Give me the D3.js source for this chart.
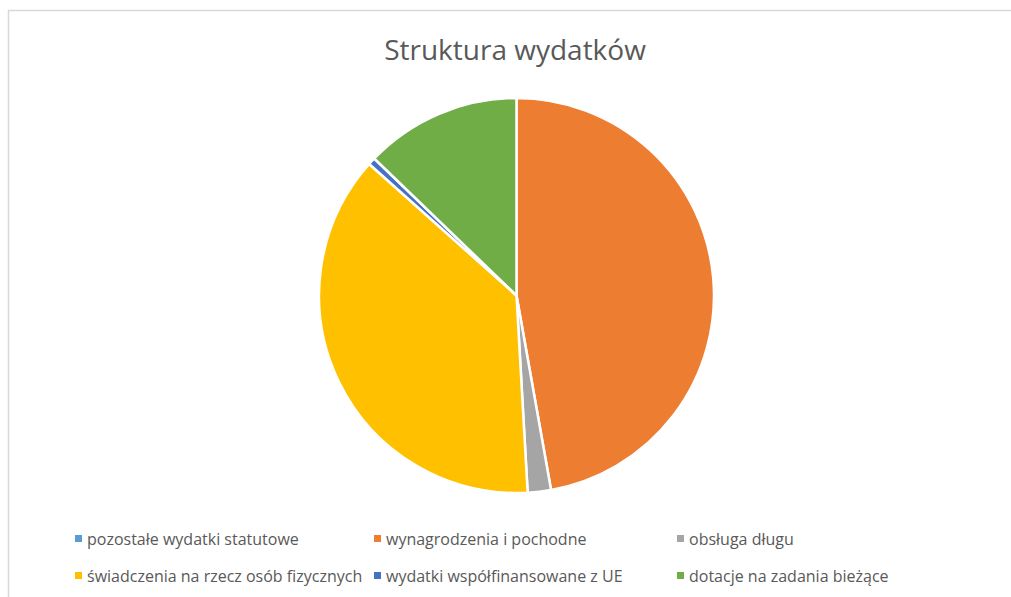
<!DOCTYPE html>
<html>
<head>
<meta charset="utf-8">
<script src="https://cdn.jsdelivr.net/npm/d3@7"></script>
<style>
  body { margin: 0; background: #fff; }
  text { font-family: "Open Sans", "Noto Sans", sans-serif; fill: #595959; }
</style>
</head>
<body>
<svg id="chart" width="1011" height="597"></svg>
<script>
var categories = ["pozostałe wydatki statutowe", "wynagrodzenia i pochodne", "obsługa długu",
    "świadczenia na rzecz osób fizycznych", "wydatki współfinansowane z UE", "dotacje na zadania bieżące"];
var values = [0, 47.2, 1.9, 37.5, 0.6, 12.8];
var colors = ["#5b9bd5", "#ed7d31", "#a5a5a5", "#ffc000", "#4472c4", "#70ad47"];

var svg = d3.select("#chart");

// chart border (clipped at right/bottom like the original)
svg.append("rect")
    .attr("x", 8.5).attr("y", 10.5)
    .attr("width", 1020).attr("height", 620)
    .attr("fill", "none")
    .attr("stroke", "#d9d9d9")
    .attr("stroke-width", 1.5);

svg.append("text")
    .attr("x", 515).attr("y", 60)
    .attr("text-anchor", "middle")
    .style("font-size", "28px")
    .text("Struktura wydatków");

var cx = 516.5, cy = 295.5, radius = 197.5;

var pie = d3.pie().sort(null).value(d => d.value);
var arc = d3.arc().innerRadius(0).outerRadius(radius);

var data = categories.map((c, i) => ({ name: c, value: values[i], color: colors[i] }));

svg.append("g")
    .attr("transform", `translate(${cx}, ${cy})`)
    .selectAll("path")
    .data(pie(data))
    .enter()
    .append("path")
    .attr("d", arc)
    .attr("fill", d => d.data.color)
    .attr("stroke", "#fff")
    .attr("stroke-width", 2.5)
    .attr("stroke-linejoin", "round");

// legend: 3 columns x 2 rows
var colX = [75, 374, 677];
var rowY = [539, 576];

var legend = svg.append("g").selectAll("g")
    .data(data)
    .enter()
    .append("g")
    .attr("transform", (d, i) => `translate(${colX[i % 3]}, ${rowY[Math.floor(i / 3)]})`);

legend.append("rect")
    .attr("x", 0).attr("y", -4)
    .attr("width", 7).attr("height", 7)
    .attr("fill", d => d.color);

legend.append("text")
    .attr("x", 12).attr("y", 6)
    .style("font-size", "16px")
    .text(d => d.name);
</script>
</body>
</html>
